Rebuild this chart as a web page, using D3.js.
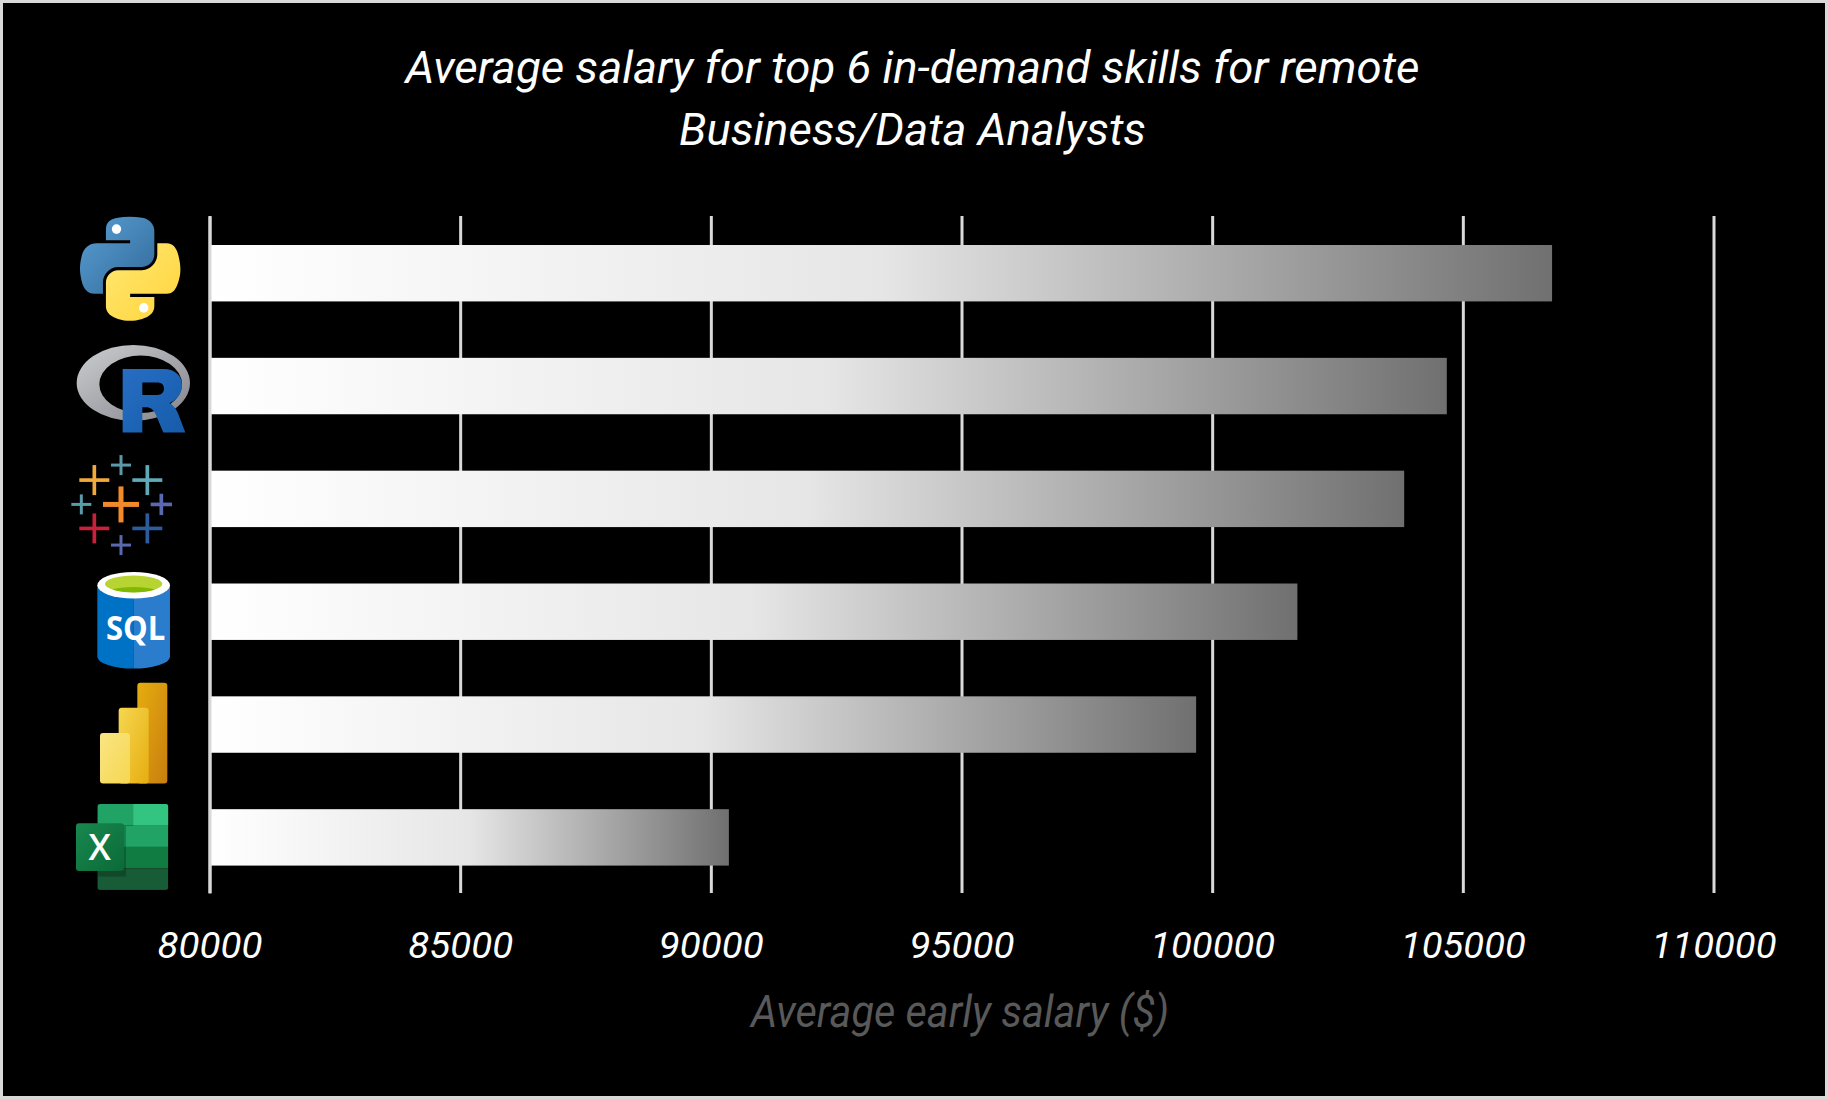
<!DOCTYPE html>
<html>
<head>
<meta charset="utf-8">
<script src="https://cdn.jsdelivr.net/npm/d3@7"></script>
<style>
  html, body { margin: 0; background: #000; overflow: hidden; }
  text { font-family: Roboto, sans-serif; font-style: italic; }
</style>
</head>
<body>
<script>
// data
var skills = ["Python", "R", "Tableau", "SQL", "Power BI", "Excel"];
var salaries = [106780, 104680, 103830, 101700, 99680, 90360];
var tick_values = [80000, 85000, 90000, 95000, 100000, 105000, 110000];
var title_lines = ["Average salary for top 6 in-demand skills for remote", "Business/Data Analysts"];
var x_title = "Average early salary ($)";

var W = 1828, H = 1099;

var x = d3.scaleLinear().domain([80000, 110000]).range([209.5, 1713.5]);
var y = d3.scaleBand().domain(skills).range([216.8, 893.8]).paddingInner(0.5).paddingOuter(0.25);

var svg = d3.select("body").append("svg")
    .attr("width", W)
    .attr("height", H)
    .style("display", "block");

svg.append("rect")
    .attr("x", 1.5).attr("y", 1.5)
    .attr("width", W - 3).attr("height", H - 3)
    .attr("fill", "#000")
    .attr("stroke", "#d9d9d9")
    .attr("stroke-width", 3);

var defs = svg.append("defs");

function linear(id, x1, y1, x2, y2, stops) {
    var g = defs.append("linearGradient").attr("id", id)
        .attr("x1", x1).attr("y1", y1).attr("x2", x2).attr("y2", y2);
    stops.forEach(function(s) {
        g.append("stop").attr("offset", s[0]).attr("stop-color", s[1]);
    });
}

linear("barFill", 0, 0, 1, 0, [[0, "#ffffff"], [0.5, "#e6e6e6"], [1, "#707070"]]);
linear("pyBlue", 0, 0, 1, 1, [[0, "#5a9fd4"], [1, "#306998"]]);
linear("pyYellow", 0, 0, 1, 1, [[0, "#ffe873"], [1, "#ffd43b"]]);
linear("rRing", 0, 0, 1, 1, [[0, "#cbced0"], [1, "#84838b"]]);
linear("rBlue", 0, 0, 1, 1, [[0, "#276dc3"], [1, "#165caa"]]);
linear("pbi1", 0, 0, 1, 1, [[0, "#e6ad10"], [1, "#c87e0e"]]);
linear("pbi2", 0, 0, 1, 1, [[0, "#f6d751"], [1, "#e6ad10"]]);
linear("pbi3", 0, 0, 1, 1, [[0, "#f9e583"], [1, "#f6d751"]]);
linear("xlFront", 0, 0, 1, 1, [[0, "#18884f"], [1, "#0b6a37"]]);

// title
svg.selectAll(".title")
    .data(title_lines)
    .enter().append("text")
    .attr("class", "title")
    .attr("x", 912.5)
    .attr("y", function(d, i) { return 83 + i * 62; })
    .attr("text-anchor", "middle")
    .attr("fill", "#fff")
    .style("font-size", "44px")
    .attr("textLength", function(d, i) { return i == 0 ? 1014 : 467; })
    .attr("lengthAdjust", "spacingAndGlyphs")
    .text(function(d) { return d; });

// grid lines and tick labels come from the bottom axis
var xAxis = svg.append("g")
    .attr("transform", "translate(0,893)")
    .call(d3.axisBottom(x).tickValues(tick_values).tickSize(677).tickSizeOuter(0).tickFormat(d3.format("d")));
xAxis.select(".domain").remove();
xAxis.selectAll(".tick line")
    .attr("y2", -677)
    .attr("stroke", "#d9d9d9")
    .attr("stroke-width", 3);
xAxis.selectAll(".tick text")
    .attr("y", 65)
    .attr("dy", 0)
    .attr("fill", "#fff")
    .style("font-size", "36px")
    .attr("textLength", 125)
    .attr("lengthAdjust", "spacingAndGlyphs");
xAxis.selectAll(".tick text")
    .filter(function(d) { return d < 100000; })
    .attr("textLength", 105);

svg.append("text")
    .attr("x", 960)
    .attr("y", 1027)
    .attr("text-anchor", "middle")
    .attr("fill", "#595959")
    .style("font-size", "44px")
    .attr("textLength", 418)
    .attr("lengthAdjust", "spacingAndGlyphs")
    .text(x_title);

// bars
svg.selectAll(".bar")
    .data(skills)
    .enter().append("rect")
    .attr("class", "bar")
    .attr("x", x(80000))
    .attr("y", function(d) { return y(d); })
    .attr("width", function(d, i) { return x(salaries[i]) - x(80000); })
    .attr("height", y.bandwidth())
    .attr("fill", "url(#barFill)");

// left axis line sits on top of the bars
var yAxis = svg.append("g")
    .attr("transform", "translate(" + x(80000) + ",-0.8)")
    .call(d3.axisLeft(y).tickSize(0).tickFormat(""));
yAxis.select(".domain").attr("stroke", "#d9d9d9").attr("stroke-width", 3);

// logos, each drawn in a 3x box around the bar centre
function icon(name, centre) {
    return svg.append("g")
        .attr("class", "icon")
        .attr("transform", "translate(50," + (y(name) + y.bandwidth() / 2 - 0.8) + ") scale(0.3333) translate(0," + (-centre) + ")");
}

// python
var py = icon("Python", 217).append("g").attr("transform", "translate(90,50) scale(2.71,2.78)");
py.append("path").attr("fill", "url(#pyBlue)")
    .attr("d", "M54.9,0C50.3,0 46,0.4 42.1,1.1C30.8,3.1 28.7,7.3 28.7,15L28.7,25.25L55.5,25.25L55.5,28.66L18.6,28.66C10.8,28.66 4,33.3 1.9,42.25C-0.6,52.5 -0.7,58.8 1.9,69.5C3.8,77.4 8.3,83.1 16.1,83.1L25.4,83.1L25.4,70.8C25.4,62 33,54.2 42.1,54.2L68.9,54.2C76.3,54.2 82.3,48 82.3,40.6L82.3,15C82.3,7.8 76.1,2.3 68.9,1.1C64.3,0.3 59.5,0 54.9,0Z");
py.append("path").attr("fill", "url(#pyYellow)")
    .attr("d", "M85.6,28.66L85.6,40.6C85.6,49.8 77.8,57.6 68.9,57.6L42.1,57.6C34.8,57.6 28.7,63.8 28.7,71.2L28.7,96.7C28.7,104 35,108.3 42.1,110.3C50.6,112.8 58.7,113.3 68.9,110.3C75.6,108.4 82.3,104.5 82.3,96.7L82.3,86.5L55.5,86.5L55.5,83.1L95.7,83.1C103.5,83.1 106.4,77.7 109.1,69.5C111.9,61.1 111.8,53 109.1,42.25C107.2,34.5 103.5,28.66 95.7,28.66Z");
py.append("circle").attr("cx", 40.4).attr("cy", 13.3).attr("r", 5.2).attr("fill", "#fff");
py.append("circle").attr("cx", 70.6).attr("cy", 98.4).attr("r", 5.2).attr("fill", "#fff");

// R
var rl = icon("R", 556);
rl.append("path").attr("fill", "url(#rRing)").attr("fill-rule", "evenodd")
    .attr("d", "M80,549A170,114 0 1,1 420,549A170,114 0 1,1 80,549Z M148,553A124,86 0 1,0 396,553A124,86 0 1,0 148,553Z");
rl.append("path").attr("fill", "url(#rBlue)").attr("fill-rule", "evenodd")
    .attr("d", "M218,507L340,507C378,507 396,530 396,556C396,585 378,602 358,610C372,616 378,628 384,640L406,698L340,698L318,645C310,628 302,622 288,622L277,622L277,698L218,698Z M277,548L277,585L322,585C334,585 342,578 342,566C342,554 334,548 322,548Z");

// tableau, one row per cross: x, y, half length, thickness, colour
var crosses = [
    [213, 795, 30, 9, "#5b9aa8"], [133, 840, 45, 11, "#f2a93b"], [292, 840, 45, 11, "#5fa9b8"],
    [94, 913, 30, 9, "#5b9aa8"], [213, 913, 54, 15, "#f28a2b"], [334, 913, 32, 11, "#5a68b0"],
    [133, 985, 45, 11, "#c9213a"], [292, 985, 45, 11, "#2d5c9e"], [213, 1035, 30, 9, "#5a68b0"]
];
var tb = icon("Tableau", 894);
crosses.forEach(function(c) {
    tb.append("rect").attr("x", c[0] - c[2]).attr("y", c[1] - c[3] / 2).attr("width", c[2] * 2).attr("height", c[3]).attr("fill", c[4]);
    tb.append("rect").attr("x", c[0] - c[3] / 2).attr("y", c[1] - c[2]).attr("width", c[3]).attr("height", c[2] * 2).attr("fill", c[4]);
});

// SQL
var sq = icon("SQL", 213);
sq.append("path").attr("fill", "#0072c6")
    .attr("d", "M142,137L142,350A108,36 0 0,0 250,386L250,137Z");
sq.append("path").attr("fill", "#2a7ccd")
    .attr("d", "M360,137L360,350A110,36 0 0,1 250,386L250,137Z");
sq.append("ellipse").attr("cx", 251).attr("cy", 136).attr("rx", 109).attr("ry", 40).attr("fill", "#fff");
sq.append("ellipse").attr("cx", 251).attr("cy", 132).attr("rx", 86).attr("ry", 25).attr("fill", "#b8d432");
sq.append("path").attr("fill", "#7fba00")
    .attr("d", "M186,149A86,25 0 0,0 316,149A80,18 0 0,0 186,149Z");
sq.append("text").attr("x", 257).attr("y", 300).attr("text-anchor", "middle")
    .attr("fill", "#fff")
    .style("font-family", "'Open Sans', sans-serif")
    .style("font-size", "100px").style("font-weight", "700").style("font-style", "normal")
    .attr("textLength", 178).attr("lengthAdjust", "spacingAndGlyphs")
    .text("SQL");

// power bi
var pb = icon("Power BI", 551);
pb.append("rect").attr("x", 262).attr("y", 428).attr("width", 90).attr("height", 302).attr("rx", 9).attr("fill", "url(#pbi1)");
pb.append("rect").attr("x", 206).attr("y", 503).attr("width", 90).attr("height", 227).attr("rx", 9).attr("fill", "url(#pbi2)");
pb.append("rect").attr("x", 150).attr("y", 579).attr("width", 90).attr("height", 151).attr("rx", 9).attr("fill", "url(#pbi3)");

// excel
var xl = icon("Excel", 890);
xl.append("clipPath").attr("id", "xlClip").append("rect")
    .attr("x", 142).attr("y", 792).attr("width", 213).attr("height", 258).attr("rx", 9);
var xb = xl.append("g").attr("clip-path", "url(#xlClip)");
xb.append("rect").attr("x", 142).attr("y", 792).attr("width", 213).attr("height", 65).attr("fill", "#21a366");
xb.append("rect").attr("x", 250).attr("y", 792).attr("width", 105).attr("height", 65).attr("fill", "#33c481");
xb.append("rect").attr("x", 142).attr("y", 857).attr("width", 213).attr("height", 64).attr("fill", "#21a366");
xb.append("rect").attr("x", 142).attr("y", 921).attr("width", 213).attr("height", 64).attr("fill", "#107c41");
xb.append("rect").attr("x", 142).attr("y", 985).attr("width", 213).attr("height", 65).attr("fill", "#185c37");
xb.append("rect").attr("x", 142).attr("y", 858).attr("width", 86).attr("height", 152).attr("fill", "#000").attr("opacity", 0.22);
xl.append("rect").attr("x", 78).attr("y", 850).attr("width", 144).attr("height", 143).attr("rx", 9).attr("fill", "url(#xlFront)");
xl.append("text").attr("x", 149).attr("y", 960).attr("text-anchor", "middle")
    .attr("fill", "#fff")
    .style("font-family", "'Open Sans', sans-serif")
    .style("font-size", "108px").style("font-weight", "600").style("font-style", "normal")
    .text("X");
</script>
</body>
</html>
